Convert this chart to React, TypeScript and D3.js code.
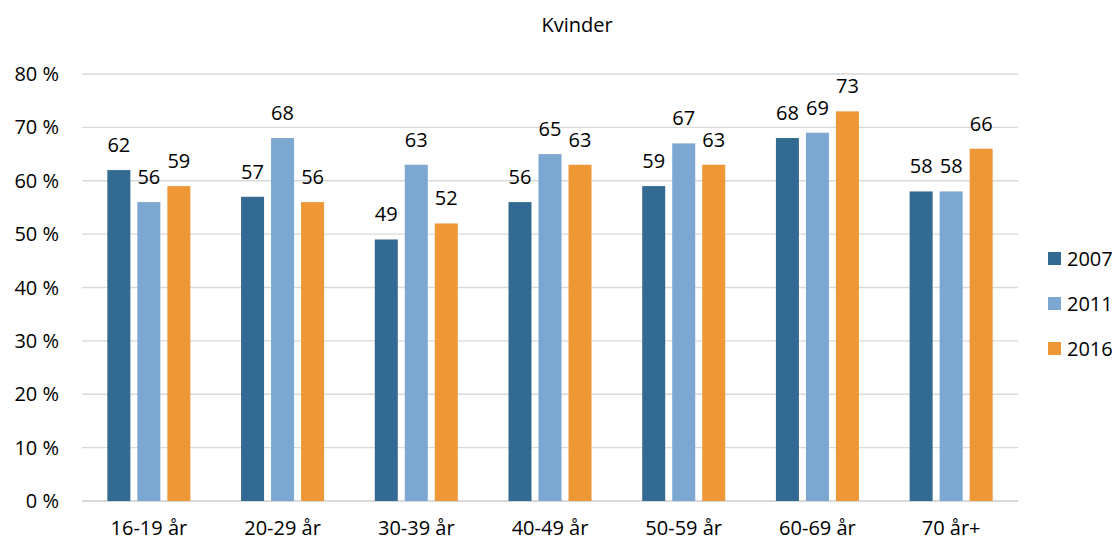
import * as d3 from 'd3';
import React from 'react';

const categories = ['16-19 år', '20-29 år', '30-39 år', '40-49 år', '50-59 år', '60-69 år', '70 år+'];
const seriesNames = ['2007', '2011', '2016'];
const values2007 = [62, 57, 49, 56, 59, 68, 58];
const values2011 = [56, 68, 63, 65, 67, 69, 58];
const values2016 = [59, 56, 52, 63, 63, 73, 66];
const yTicks = [0, 10, 20, 30, 40, 50, 60, 70, 80];
const colors = ['#336a91', '#7ba7d0', '#ee9736'];

const width = 1118;
const height = 542;
const font = "'Open Sans', 'Noto Sans', sans-serif";
const fs = 20;

function App(): any {
  const series = [values2007, values2011, values2016];
  const margin = { top: 74, right: 100, bottom: 41, left: 82 };

  const x0 = d3.scaleBand<string>()
    .domain(categories)
    .range([margin.left, width - margin.right]);

  // 23px bars on a 30px step, centred in each category band
  const x1 = d3.scaleBand<string>()
    .domain(seriesNames)
    .range([0, x0.bandwidth()])
    .paddingInner(7 / 30)
    .paddingOuter(0.845);

  const y = d3.scaleLinear()
    .domain([0, 80])
    .range([height - margin.bottom, margin.top]);

  return (
    <svg width={width} height={height} style={{ position: 'absolute', left: 0, top: 0 }} fontFamily={font}>
      <text x={577} y={32} textAnchor="middle" fontSize={fs} fill="#000">Kvinder</text>

      {/* gridlines + y axis */}
      {yTicks.map((t) => (
        <g key={t}>
          <line x1={margin.left} x2={width - margin.right} y1={y(t)} y2={y(t)}
            stroke="#d9d9d9" strokeWidth={t === 0 ? 2 : 1.3} />
          <text x={59} y={y(t)} dy="0.35em" textAnchor="end" fontSize={fs} fill="#000">{t} %</text>
        </g>
      ))}

      {/* bars */}
      {categories.map((c, i) => (
        <g key={c} transform={`translate(${x0(c)},0)`}>
          {seriesNames.map((s, j) => {
            const v = series[j][i];
            const bx = x1(s) as number;
            return (
              <g key={s}>
                <rect x={bx} y={y(v)} width={x1.bandwidth()} height={y(0) - y(v)} fill={colors[j]} />
                <text x={bx + x1.bandwidth() / 2} y={y(v) - 18} textAnchor="middle" fontSize={fs} fill="#000">{v}</text>
              </g>
            );
          })}
          <text x={x0.bandwidth() / 2} y={535} textAnchor="middle" fontSize={fs} fill="#000">{c}</text>
        </g>
      ))}

      {/* legend */}
      {seriesNames.map((s, j) => (
        <g key={s} transform={`translate(1048,${259 + j * 45})`}>
          <rect x={0} y={-7} width={13} height={13} fill={colors[j]} />
          <text x={19} y={0} dy="0.35em" fontSize={fs} fill="#000">{s}</text>
        </g>
      ))}
    </svg>
  );
}

export default App;
